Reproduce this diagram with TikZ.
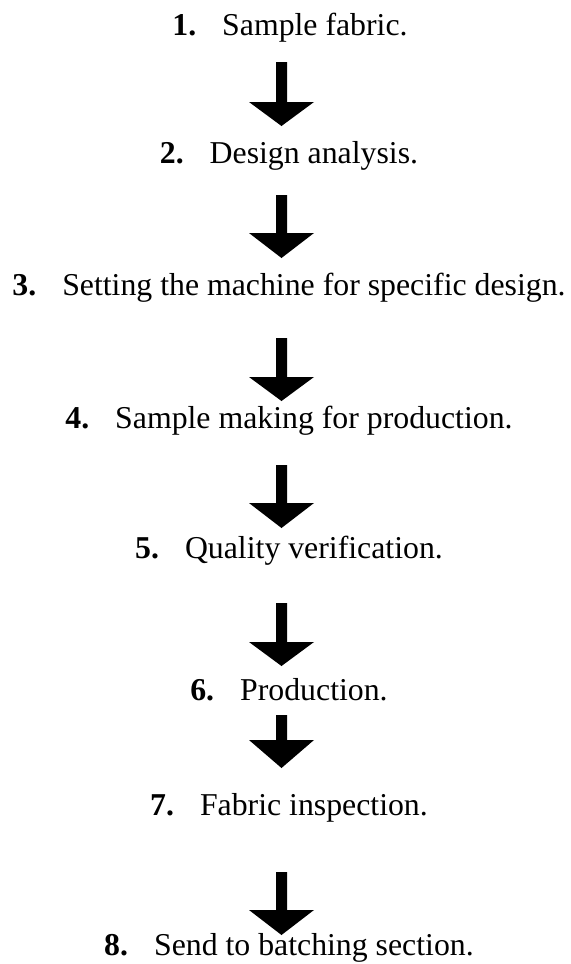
\documentclass[tikz,border=0pt]{standalone}
\usepackage{fontspec}
\setmainfont{Liberation Serif}
\newcommand{\blockarr}[4]{% name, shaft top, head top, tip (px)
  \coordinate (#1s) at (281.5,#2);
  \coordinate (#1t) at (281.5,#4);
  \fill[arrowfill] ([xshift=-5.5*0.5pt]#1s) -- ([xshift=5.5*0.5pt]#1s)
    -- (287,#3) -- (314,#3) -- (#1t) -- (249,#3) -- (276,#3) -- cycle;}
\begin{document}
\begin{tikzpicture}[x=0.5pt,y=-0.5pt,
  steptext/.style={anchor=base,inner sep=0pt,font=\fontsize{15.9}{19}\selectfont},
  arrowfill/.style={fill=black}]
\useasboundingbox (0,0) rectangle (570,964);
\node[steptext] (l1) at (290,35) {\textbf{1.}\hspace{13pt}Sample fabric.};
\node[steptext] (l2) at (289,163) {\textbf{2.}\hspace{13pt}Design analysis.};
\node[steptext] (l3) at (289,295) {\textbf{3.}\hspace{13pt}Setting the machine for specific design.};
\node[steptext] (l4) at (289,428) {\textbf{4.}\hspace{13pt}Sample making for production.};
\node[steptext] (l5) at (289,558) {\textbf{5.}\hspace{13pt}Quality verification.};
\node[steptext] (l6) at (289,700) {\textbf{6.}\hspace{13pt}Production.};
\node[steptext] (l7) at (289,815) {\textbf{7.}\hspace{13pt}Fabric inspection.};
\node[steptext] (l8) at (289,955) {\textbf{8.}\hspace{13pt}Send to batching section.};
\blockarr{a1}{62}{102}{126}
\blockarr{a2}{195}{233}{258}
\blockarr{a3}{338}{377}{401}
\blockarr{a4}{465}{503}{528}
\blockarr{a5}{603}{642}{666}
\blockarr{a6}{715}{740}{768}
\blockarr{a7}{872}{910}{935}
\end{tikzpicture}
\end{document}
